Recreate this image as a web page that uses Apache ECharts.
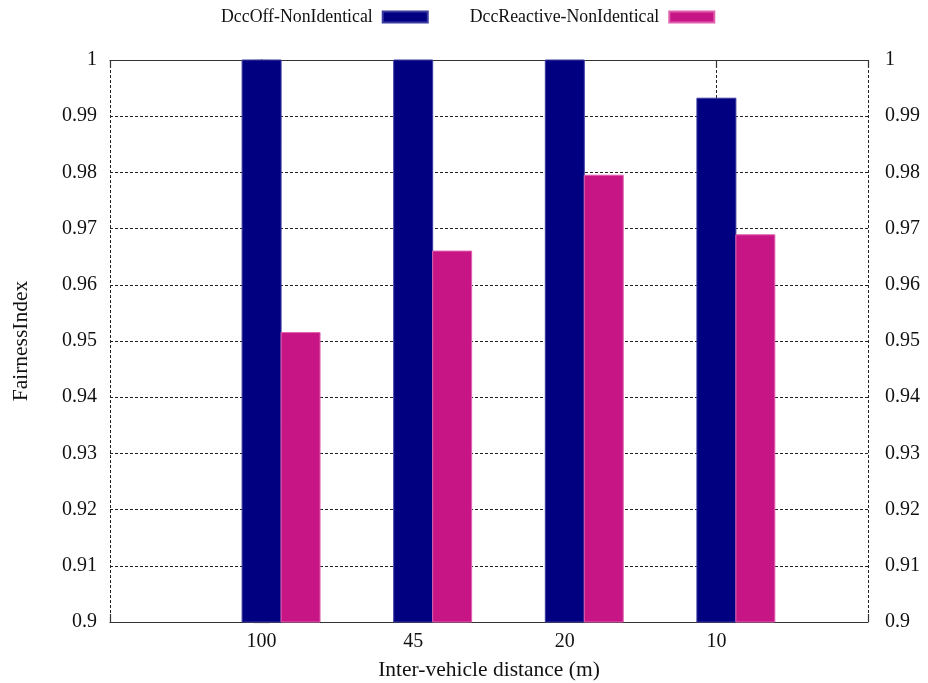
<!DOCTYPE html>
<html>
<head>
<meta charset="utf-8">
<script src="https://cdn.jsdelivr.net/npm/echarts@6/dist/echarts.min.js"></script>
<style>
  html, body { margin: 0; padding: 0; background: #fff; }
  #chart { width: 928px; height: 683px; }
</style>
</head>
<body>
<div id="chart"></div>
<script>
const categories = ['100', '45', '20', '10'];
const dccOff = [1.0, 1.0, 1.0, 0.9932];
const dccReactive = [0.9515, 0.9660, 0.9795, 0.9689];
const seriesNames = ['DccOff-NonIdentical', 'DccReactive-NonIdentical'];
const yTicks = { min: 0.9, max: 1.0, step: 0.01 };

const font = 'Liberation Serif';
const barSpan = 0.257; // bar width in x units
const gridDash = [3, 2];

const chart = echarts.init(document.getElementById('chart'));

function barRender(offset) {
  return function (params, api) {
    const x = api.value(0) + offset;
    const top = api.coord([x, api.value(1)]);
    const base = api.coord([x, yTicks.min]);
    const w = api.size([barSpan, 0])[0];
    return {
      type: 'rect',
      shape: { x: top[0] - w / 2, y: top[1], width: w, height: base[1] - top[1] },
      style: api.style()
    };
  };
}

const axisLineStyle = { color: '#333', width: 1.2 };
const labelStyle = { fontFamily: font, fontSize: 20, color: '#111' };
const nameStyle = { fontFamily: font, fontSize: 21.5, color: '#111' };

const xBase = {
  type: 'value',
  min: -1,
  max: categories.length,
  interval: 1,
  axisLine: { show: true, lineStyle: axisLineStyle },
  axisTick: { show: true, inside: true, length: 8, lineStyle: axisLineStyle }
};

const yBase = {
  type: 'value',
  min: yTicks.min,
  max: yTicks.max,
  interval: yTicks.step,
  axisLine: { show: true, lineStyle: axisLineStyle },
  axisTick: { show: true, inside: true, length: 8, lineStyle: axisLineStyle }
};

chart.setOption({
  animation: false,
  backgroundColor: '#fff',
  textStyle: { fontFamily: font },
  legend: {
    top: 3,
    left: 216,
    align: 'right',
    itemGap: 41,
    itemWidth: 45,
    itemHeight: 11,
    textStyle: { fontFamily: font, fontSize: 17.8, color: '#111', padding: [0, 5, 0, 0] },
    data: [
      { name: seriesNames[0], icon: 'rect' },
      { name: seriesNames[1], icon: 'rect' }
    ]
  },
  grid: { left: 110, right: 60, top: 60, bottom: 61, containLabel: false, outerBoundsMode: 'none' },
  xAxis: [
    Object.assign({}, xBase, {
      position: 'bottom',
      name: 'Inter-vehicle distance (m)',
      nameLocation: 'middle',
      nameGap: 37,
      nameTextStyle: nameStyle,
      axisLabel: Object.assign({}, labelStyle, {
        margin: 10,
        formatter: v => (v >= 0 && v < categories.length ? categories[v] : '')
      }),
      splitLine: { show: true, lineStyle: { color: '#222', type: gridDash, width: 1 } }
    }),
    Object.assign({}, xBase, {
      position: 'top',
      axisLabel: { show: false },
      splitLine: { show: false }
    })
  ],
  yAxis: [
    Object.assign({}, yBase, {
      position: 'left',
      name: 'FairnessIndex',
      nameLocation: 'middle',
      nameGap: 78,
      nameTextStyle: nameStyle,
      axisLabel: Object.assign({}, labelStyle, { margin: 13 }),
      splitLine: { show: true, lineStyle: { color: '#222', type: gridDash, width: 1 } }
    }),
    Object.assign({}, yBase, {
      position: 'right',
      axisLabel: Object.assign({}, labelStyle, { margin: 17 }),
      splitLine: { show: false }
    })
  ],
  series: [
    {
      name: seriesNames[0],
      type: 'custom',
      renderItem: barRender(0),
      encode: { x: 0, y: 1 },
      itemStyle: { color: '#000080', borderColor: '#3a3aa0', borderWidth: 1 },
      data: dccOff.map((v, i) => [i, v])
    },
    {
      name: seriesNames[1],
      type: 'custom',
      renderItem: barRender(barSpan),
      encode: { x: 0, y: 1 },
      itemStyle: { color: '#C71585', borderColor: '#e060b0', borderWidth: 1 },
      data: dccReactive.map((v, i) => [i, v])
    }
  ]
});
</script>
</body>
</html>
